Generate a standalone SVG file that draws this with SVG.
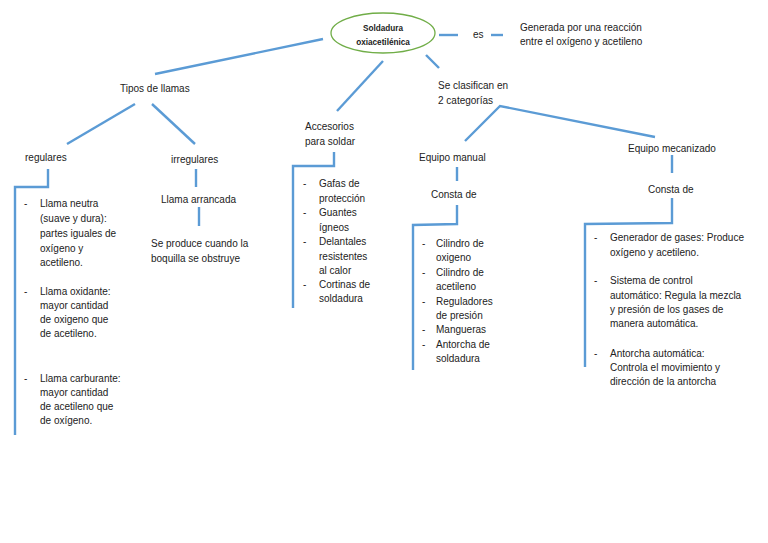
<svg xmlns="http://www.w3.org/2000/svg" width="768" height="543" viewBox="0 0 768 543">
<style>
text{font-family:"Liberation Sans",Arial,sans-serif;font-size:10px;fill:#222}
.b{font-weight:bold;font-size:8.2px;text-anchor:middle}
.c{fill:none;stroke:#5b9bd5;stroke-width:2.4;stroke-linecap:butt;stroke-linejoin:miter}
</style>
<rect width="768" height="543" fill="#fff"/>
<g id="connectors">
<line class="c" x1="439" y1="35" x2="458" y2="35"/>
<line class="c" x1="491" y1="35" x2="503" y2="35"/>
<line class="c" x1="323" y1="39" x2="155" y2="74"/>
<line class="c" x1="135" y1="104" x2="67" y2="144"/>
<line class="c" x1="152" y1="104" x2="195" y2="144"/>
<polyline class="c" points="48,169 48,187 15,187 15,435"/>
<line class="c" x1="196" y1="169" x2="196" y2="187"/>
<line class="c" x1="199" y1="207" x2="199" y2="226"/>
<line class="c" x1="383" y1="61" x2="337" y2="111"/>
<polyline class="c" points="334,152 334,166 293,166 293,308"/>
<line class="c" x1="426" y1="55" x2="439" y2="68"/>
<polyline class="c" points="465,141 500,106 655,137"/>
<line class="c" x1="457" y1="167" x2="457" y2="181"/>
<polyline class="c" points="457,205 457,224 413,225 413,370"/>
<line class="c" x1="672" y1="155" x2="672" y2="173"/>
<polyline class="c" points="672,198 672,223 585,224 585,367"/>
</g>
<g id="root">
<ellipse cx="383" cy="33" rx="52" ry="20" fill="#fff" stroke="#70ad47" stroke-width="1.3"/>
<text class="b" x="383" y="31">Soldadura</text>
<text class="b" x="383" y="45">oxiacetilénica</text>
</g>
<g id="es"><text x="473" y="38">es</text></g>
<g id="definicion">
<text x="520" y="31">Generada por una reacción</text>
<text x="520" y="45">entre el oxígeno y acetileno</text>
</g>
<g id="tipos"><text x="120" y="92">Tipos de llamas</text></g>
<g id="regulares"><text x="25" y="161">regulares</text></g>
<g id="irregulares"><text x="171" y="163">irregulares</text></g>
<g id="regulares-lista">
<text x="24" y="207">-</text>
<text x="40" y="207">Llama neutra</text>
<text x="40" y="222">(suave y dura):</text>
<text x="40" y="237">partes iguales de</text>
<text x="40" y="252">oxígeno y</text>
<text x="40" y="266">acetileno.</text>
<text x="24" y="295">-</text>
<text x="40" y="295">Llama oxidante:</text>
<text x="40" y="309">mayor cantidad</text>
<text x="40" y="323">de oxigeno que</text>
<text x="40" y="337">de acetileno.</text>
<text x="24" y="382">-</text>
<text x="40" y="382">Llama carburante:</text>
<text x="40" y="396">mayor cantidad</text>
<text x="40" y="410">de acetileno que</text>
<text x="40" y="424">de oxígeno.</text>
</g>
<g id="arrancada"><text x="161" y="203">Llama arrancada</text></g>
<g id="arrancada-desc">
<text x="151" y="247">Se produce cuando la</text>
<text x="151" y="262">boquilla se obstruye</text>
</g>
<g id="accesorios">
<text x="305" y="130">Accesorios</text>
<text x="305" y="145">para soldar</text>
</g>
<g id="accesorios-lista">
<text x="303" y="187">-</text>
<text x="319" y="187">Gafas de</text>
<text x="319" y="202">protección</text>
<text x="303" y="216">-</text>
<text x="319" y="216">Guantes</text>
<text x="319" y="231">ígneos</text>
<text x="303" y="245">-</text>
<text x="319" y="245">Delantales</text>
<text x="319" y="260">resistentes</text>
<text x="319" y="274">al calor</text>
<text x="303" y="288">-</text>
<text x="319" y="288">Cortinas de</text>
<text x="319" y="302">soldadura</text>
</g>
<g id="clasifican">
<text x="438" y="89">Se clasifican en</text>
<text x="438" y="104">2 categorías</text>
</g>
<g id="manual"><text x="419" y="161">Equipo manual</text></g>
<g id="manual-consta"><text x="431" y="198">Consta de</text></g>
<g id="manual-lista">
<text x="422" y="247">-</text>
<text x="436" y="247">Cilindro de</text>
<text x="436" y="261">oxigeno</text>
<text x="422" y="276">-</text>
<text x="436" y="276">Cilindro de</text>
<text x="436" y="290">acetileno</text>
<text x="422" y="305">-</text>
<text x="436" y="305">Reguladores</text>
<text x="436" y="319">de presión</text>
<text x="422" y="333">-</text>
<text x="436" y="333">Mangueras</text>
<text x="422" y="348">-</text>
<text x="436" y="348">Antorcha de</text>
<text x="436" y="362">soldadura</text>
</g>
<g id="mecanizado"><text x="628" y="152">Equipo mecanizado</text></g>
<g id="mecanizado-consta"><text x="648" y="193">Consta de</text></g>
<g id="mecanizado-lista">
<text x="594" y="241">-</text>
<text x="610" y="241">Generador de gases: Produce</text>
<text x="610" y="256">oxígeno y acetileno.</text>
<text x="594" y="284">-</text>
<text x="610" y="284">Sistema de control</text>
<text x="610" y="299">automático: Regula la mezcla</text>
<text x="610" y="313">y presión de los gases de</text>
<text x="610" y="327">manera automática.</text>
<text x="594" y="357">-</text>
<text x="610" y="357">Antorcha automática:</text>
<text x="610" y="371">Controla el movimiento y</text>
<text x="610" y="385">dirección de la antorcha</text>
</g>
</svg>
